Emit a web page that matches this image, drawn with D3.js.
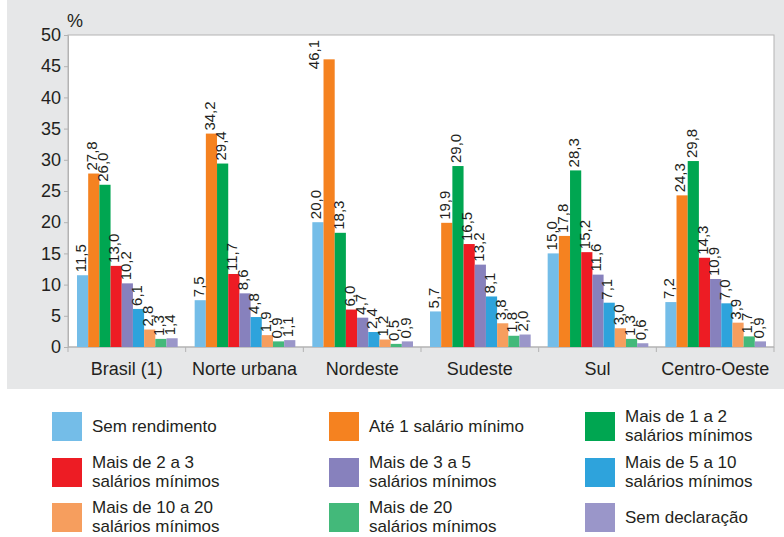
<!DOCTYPE html>
<html>
<head>
<meta charset="utf-8">
<script src="https://cdn.jsdelivr.net/npm/d3@7"></script>
<style>
  html, body { margin: 0; padding: 0; background: #ffffff; }
  svg { display: block; font-family: "Liberation Sans", Arial, Helvetica, sans-serif; }
</style>
</head>
<body>
<svg id="chart" width="784" height="537"></svg>
<script>
// Regions on the x axis
const regions = ["Brasil (1)", "Norte urbana", "Nordeste", "Sudeste", "Sul", "Centro-Oeste"];

// Income classes (series), in bar order; "|" marks a line break in the legend
const classes = [
  "Sem rendimento",
  "Até 1 salário mínimo",
  "Mais de 1 a 2|salários mínimos",
  "Mais de 2 a 3|salários mínimos",
  "Mais de 3 a 5|salários mínimos",
  "Mais de 5 a 10|salários mínimos",
  "Mais de 10 a 20|salários mínimos",
  "Mais de 20|salários mínimos",
  "Sem declaração"
];

const classColors = ["#74bde8", "#f58220", "#00a651", "#ed1c24", "#8781bd", "#2ea3dc", "#f69e5e", "#43b97a", "#9a96c9"];

// Percent of people per income class, one array per class (values by region)
const semRendimento  = [11.5,  7.5, 20.0,  5.7, 15.0,  7.2];
const ate1           = [27.8, 34.2, 46.1, 19.9, 17.8, 24.3];
const de1a2          = [26.0, 29.4, 18.3, 29.0, 28.3, 29.8];
const de2a3          = [13.0, 11.7,  6.0, 16.5, 15.2, 14.3];
const de3a5          = [10.2,  8.6,  4.7, 13.2, 11.6, 10.9];
const de5a10         = [ 6.1,  4.8,  2.4,  8.1,  7.1,  7.0];
const de10a20        = [ 2.8,  1.9,  1.2,  3.8,  3.0,  3.9];
const mais20         = [ 1.3,  0.9,  0.5,  1.8,  1.3,  1.7];
const semDeclaracao  = [ 1.4,  1.1,  0.9,  2.0,  0.6,  0.9];

const seriesValues = [semRendimento, ate1, de1a2, de2a3, de3a5, de5a10, de10a20, mais20, semDeclaracao];

const yTicks = [0, 5, 10, 15, 20, 25, 30, 35, 40, 45, 50];

const svg = d3.select("#chart");
const textColor = "#231f20";
const fmt = v => v.toFixed(1).replace(".", ",");

// Grey panel behind the plot
svg.append("rect")
  .attr("x", 7).attr("y", 0)
  .attr("width", 777).attr("height", 389)
  .attr("fill", "#e6e7e8");

const plot = { left: 68, right: 774, top: 35, bottom: 347 };

const x0 = d3.scaleBand().domain(regions).range([plot.left, plot.right]).padding(0);
const x1 = d3.scaleBand().domain(d3.range(classes.length)).range([9, x0.bandwidth() - 8]).padding(0);
const y = d3.scaleLinear().domain([0, 50]).range([plot.bottom, plot.top]);

// White plot area with grey frame
svg.append("rect")
  .attr("x", plot.left).attr("y", plot.top)
  .attr("width", plot.right - plot.left).attr("height", plot.bottom - plot.top)
  .attr("fill", "#ffffff").attr("stroke", "#b3b3b3").attr("stroke-width", 1);

// Y axis
const yAxis = svg.append("g")
  .attr("transform", `translate(${plot.left},0)`)
  .call(d3.axisLeft(y).tickValues(yTicks).tickSize(4).tickPadding(3).tickFormat(d3.format("d")));
yAxis.select(".domain").attr("stroke", "#b3b3b3");
yAxis.selectAll(".tick line").attr("stroke", "#b3b3b3");
yAxis.selectAll(".tick text")
  .attr("fill", textColor)
  .style("font-size", "18px");

svg.append("text")
  .attr("x", 67).attr("y", 27)
  .attr("fill", textColor)
  .style("font-size", "18px")
  .text("%");

// X axis: ticks at region boundaries, labels centred in each band
const xAxisG = svg.append("g").attr("transform", `translate(0,${plot.bottom})`);
xAxisG.append("line")
  .attr("x1", plot.left).attr("x2", plot.right)
  .attr("stroke", "#b3b3b3");
const bounds = regions.map(r => x0(r)).concat([plot.right]);
xAxisG.selectAll("line.tick")
  .data(bounds)
  .join("line")
  .attr("class", "tick")
  .attr("x1", d => d).attr("x2", d => d)
  .attr("y1", 0).attr("y2", 5)
  .attr("stroke", "#b3b3b3");
xAxisG.selectAll("text")
  .data(regions)
  .join("text")
  .attr("x", d => x0(d) + x0.bandwidth() / 2)
  .attr("y", 28)
  .attr("text-anchor", "middle")
  .attr("fill", textColor)
  .style("font-size", "18px")
  .text(d => d);

// Bars and value labels
const flat = [];
regions.forEach((r, ri) => {
  seriesValues.forEach((vals, si) => {
    flat.push({ region: r, s: si, v: vals[ri] });
  });
});

const bars = svg.append("g");
bars.selectAll("rect")
  .data(flat)
  .join("rect")
  .attr("x", d => x0(d.region) + x1(d.s))
  .attr("y", d => y(d.v))
  .attr("width", x1.bandwidth())
  .attr("height", d => y(0) - y(d.v))
  .attr("fill", d => classColors[d.s]);

const labelSize = 15;
bars.selectAll("text")
  .data(flat)
  .join("text")
  .attr("fill", textColor)
  .style("font-size", labelSize + "px")
  .attr("dy", "0.35em")
  .text(d => fmt(d.v))
  .each(function (d) {
    const el = d3.select(this);
    const len = this.getComputedTextLength();
    const barLeft = x0(d.region) + x1(d.s);
    const cx = barLeft + x1.bandwidth() / 2 - 2;
    const top = y(d.v) - 3;
    if (top - len < plot.top + 2) {
      // No room above the bar: set the label beside it, left of the bar
      el.attr("text-anchor", "end")
        .attr("transform", `translate(${barLeft - 10},${plot.top + 5}) rotate(-90)`);
    } else {
      el.attr("text-anchor", "start")
        .attr("transform", `translate(${cx},${top}) rotate(-90)`);
    }
  });

// Legend: three columns, three rows
const legendCols = [52, 329, 585];
const legendRows = [412, 458, 503];
const legend = svg.append("g");
classes.forEach((label, i) => {
  const col = i % 3, row = Math.floor(i / 3);
  const lx = legendCols[col], ly = legendRows[row];
  const g = legend.append("g").attr("transform", `translate(${lx},${ly})`);
  g.append("rect")
    .attr("width", 30).attr("height", 29)
    .attr("fill", classColors[i]);
  const lines = label.split("|");
  const t = g.append("text")
    .attr("fill", textColor)
    .style("font-size", "17px");
  lines.forEach((ln, k) => {
    const offset = lines.length === 1 ? 14.5 : (k === 0 ? 4.5 : 23);
    t.append("tspan")
      .attr("x", 40)
      .attr("y", offset)
      .attr("dy", "0.35em")
      .text(ln);
  });
});
</script>
</body>
</html>
